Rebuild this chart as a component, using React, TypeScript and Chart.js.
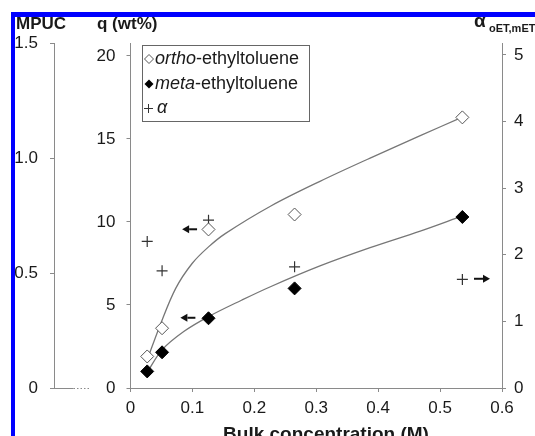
import React, { useEffect, useRef } from 'react';
import { Chart, registerables } from 'chart.js';

Chart.register(...registerables);

// ---- data ----
const concentrations = [0.027, 0.051, 0.126, 0.265, 0.536];
const orthoQ = [1.9, 3.6, 9.55, 10.45, 16.3];
const metaQ = [1.0, 2.15, 4.2, 6.0, 10.3];
const alphaValues = [2.2, 1.76, 2.52, 1.82, 1.63];

const orthoFitX = [0.027, 0.048, 0.073, 0.0995, 0.126, 0.153, 0.226, 0.306, 0.387, 0.468, 0.535];
const orthoFitQ = [1.7, 3.8, 6.0, 7.5, 8.5, 9.3, 10.95, 12.45, 13.85, 15.2, 16.3];
const metaFitX = [0.027, 0.051, 0.086, 0.126, 0.18, 0.226, 0.306, 0.387, 0.468, 0.535];
const metaFitQ = [0.95, 2.3, 3.4, 4.3, 5.3, 6.1, 7.35, 8.45, 9.45, 10.35];

const xTicks = [0, 0.1, 0.2, 0.3, 0.4, 0.5, 0.6];
const xTickLabels = ['0', '0.1', '0.2', '0.3', '0.4', '0.5', '0.6'];
const qTicks = [0, 5, 10, 15, 20];
const qTickLabels = ['0', '5', '10', '15', '20'];
const alphaTicks = [0, 1, 2, 3, 4, 5];
const alphaTickLabels = ['0', '1', '2', '3', '4', '5'];
const mpucTicks = [0, 0.5, 1.0, 1.5];
const mpucTickLabels = ['0', '0.5', '1.0', '1.5'];

const legendItalic = ['ortho', 'meta', 'α'];
const legendRest = ['-ethyltoluene', '-ethyltoluene', ''];

const arrowFromX = [0.1075, 0.1048, 0.5548];
const arrowToX = [0.0834, 0.0806, 0.5806];
const arrowY = [9.56, 4.23, 1.64];
const arrowAxis = ['yQ', 'yQ', 'yAlpha'];

const xTitle = 'Bulk concentration (M)';
const qTitle = 'q (wt%)';
const mpucTitle = 'MPUC';
const alphaTitle = 'α';
const alphaSub = 'oET,mET';

const FONT = '"Liberation Sans", Arial, Helvetica, sans-serif';
const AXIS_GRAY = '#8a8a8a';
const TEXT = '#1a1a1a';

const drawDiamond = (ctx: CanvasRenderingContext2D, cx: number, cy: number, r: number, filled: boolean) => {
  ctx.beginPath();
  ctx.moveTo(cx, cy - r);
  ctx.lineTo(cx + r, cy);
  ctx.lineTo(cx, cy + r);
  ctx.lineTo(cx - r, cy);
  ctx.closePath();
  if (filled) {
    ctx.fillStyle = '#000';
    ctx.fill();
  } else {
    ctx.fillStyle = '#fff';
    ctx.fill();
    ctx.strokeStyle = '#555';
    ctx.lineWidth = 1;
    ctx.stroke();
  }
};

const overlayPlugin = {
  id: 'overlay',
  afterDraw(chart: any) {
    const ctx: CanvasRenderingContext2D = chart.ctx;
    const sx = chart.scales.x;
    const sm = chart.scales.yMPUC;
    ctx.save();

    // MPUC zero line (solid then dotted)
    const y0 = Math.round(sm.getPixelForValue(0)) + 0.5;
    const ax = Math.round(sm.right) + 0.5;
    ctx.strokeStyle = AXIS_GRAY;
    ctx.lineWidth = 1;
    ctx.beginPath();
    ctx.moveTo(ax, y0);
    ctx.lineTo(ax + 19, y0);
    ctx.stroke();
    ctx.setLineDash([1.5, 2]);
    ctx.beginPath();
    ctx.moveTo(ax + 19, y0);
    ctx.lineTo(ax + 35, y0);
    ctx.stroke();
    ctx.setLineDash([]);

    // arrows
    for (let i = 0; i < arrowFromX.length; i++) {
      const sy = chart.scales[arrowAxis[i]];
      const x1 = sx.getPixelForValue(arrowFromX[i]);
      const x2 = sx.getPixelForValue(arrowToX[i]);
      const y = sy.getPixelForValue(arrowY[i]);
      const dir = x2 > x1 ? 1 : -1;
      const head = 7;
      ctx.strokeStyle = '#111';
      ctx.fillStyle = '#111';
      ctx.lineWidth = 2;
      ctx.beginPath();
      ctx.moveTo(x1, y);
      ctx.lineTo(x2 - dir * head, y);
      ctx.stroke();
      ctx.beginPath();
      ctx.moveTo(x2, y);
      ctx.lineTo(x2 - dir * head, y - 4);
      ctx.lineTo(x2 - dir * head, y + 4);
      ctx.closePath();
      ctx.fill();
    }

    // legend
    ctx.strokeStyle = '#666';
    ctx.lineWidth = 1;
    ctx.strokeRect(142.5, 45.5, 167, 76);
    const rowY = [59, 84, 108];
    ctx.textBaseline = 'middle';
    for (let i = 0; i < 3; i++) {
      const cy = rowY[i];
      if (i === 0) drawDiamond(ctx, 149, cy, 4.5, false);
      else if (i === 1) drawDiamond(ctx, 149, cy, 4.5, true);
      else {
        ctx.strokeStyle = '#333';
        ctx.lineWidth = 1;
        ctx.beginPath();
        ctx.moveTo(144, cy + 0.5);
        ctx.lineTo(153, cy + 0.5);
        ctx.moveTo(148.5, cy - 4);
        ctx.lineTo(148.5, cy + 5);
        ctx.stroke();
      }
      ctx.fillStyle = TEXT;
      ctx.textAlign = 'left';
      const tx = i === 2 ? 157 : 155;
      ctx.font = `italic 18px ${FONT}`;
      ctx.fillText(legendItalic[i], tx, cy);
      const w = ctx.measureText(legendItalic[i]).width;
      ctx.font = `18px ${FONT}`;
      ctx.fillText(legendRest[i], tx + w, cy);
    }

    // titles
    ctx.fillStyle = TEXT;
    ctx.textBaseline = 'alphabetic';
    ctx.textAlign = 'left';
    ctx.font = `bold 17px ${FONT}`;
    ctx.fillText(mpucTitle, 16, 29);
    ctx.fillText(qTitle, 97, 29);
    ctx.font = `bold 19px ${FONT}`;
    ctx.fillText(alphaTitle, 474, 27);
    ctx.font = `bold 11px ${FONT}`;
    ctx.fillText(alphaSub, 489, 32);
    ctx.textAlign = 'center';
    ctx.textBaseline = 'top';
    ctx.font = `bold 19px ${FONT}`;
    ctx.fillText(xTitle, 326, 425);

    // blue frame
    ctx.fillStyle = '#0000ff';
    ctx.fillRect(11, 12, 600, 5);
    ctx.fillRect(11, 12, 4, 500);
    ctx.restore();
  },
};

const axisGrid = {
  display: true,
  drawOnChartArea: false,
  drawTicks: true,
  tickLength: 4,
  color: AXIS_GRAY,
  lineWidth: 1,
};
const axisBorder = { display: true, color: AXIS_GRAY, width: 1 };
const tickFont = { family: FONT, size: 17 };

export default function App() {
  const canvasRef = useRef<HTMLCanvasElement | null>(null);

  useEffect(() => {
    if (!canvasRef.current) return;
    const chart = new Chart(canvasRef.current, {
      type: 'scatter',
      data: {
        datasets: [
          {
            label: 'ortho-ethyltoluene',
            data: concentrations.map((x, i) => ({ x, y: orthoQ[i] })),
            yAxisID: 'yQ',
            pointStyle: 'rectRot',
            pointRadius: 6.5,
            backgroundColor: '#fff',
            borderColor: '#555',
            borderWidth: 1,
            showLine: false,
          },
          {
            label: 'meta-ethyltoluene',
            data: concentrations.map((x, i) => ({ x, y: metaQ[i] })),
            yAxisID: 'yQ',
            pointStyle: 'rectRot',
            pointRadius: 6.5,
            backgroundColor: '#000',
            borderColor: '#000',
            borderWidth: 1,
            showLine: false,
          },
          {
            label: 'α',
            data: concentrations.map((x, i) => ({ x, y: alphaValues[i] })),
            yAxisID: 'yAlpha',
            pointStyle: 'cross',
            pointRadius: 5.5,
            backgroundColor: '#333',
            borderColor: '#333',
            borderWidth: 1.2,
            showLine: false,
          },
          {
            label: 'ortho fit',
            data: orthoFitX.map((x, i) => ({ x, y: orthoFitQ[i] })),
            yAxisID: 'yQ',
            showLine: true,
            pointRadius: 0,
            borderColor: '#777',
            borderWidth: 1.3,
            tension: 0.35,
          },
          {
            label: 'meta fit',
            data: metaFitX.map((x, i) => ({ x, y: metaFitQ[i] })),
            yAxisID: 'yQ',
            showLine: true,
            pointRadius: 0,
            borderColor: '#777',
            borderWidth: 1.3,
            tension: 0.35,
          },
        ],
      },
      options: {
        animation: false,
        responsive: false,
        maintainAspectRatio: false,
        layout: { padding: { top: 43, left: 0, right: 0, bottom: 0 } },
        plugins: { legend: { display: false }, tooltip: { enabled: false } },
        scales: {
          x: {
            type: 'linear',
            position: 'bottom',
            min: 0,
            max: 0.6,
            grid: axisGrid,
            border: axisBorder,
            afterBuildTicks: (s: any) => {
              s.ticks = xTicks.map((v) => ({ value: v }));
            },
            afterFit: (s: any) => {
              s.height = 48;
            },
            ticks: {
              font: tickFont,
              color: TEXT,
              padding: 6,
              maxRotation: 0,
              autoSkip: false,
              callback: (_v: any, i: number) => xTickLabels[i],
            },
          },
          yMPUC: {
            type: 'linear',
            position: 'left',
            weight: 10,
            min: 0,
            max: 1.5,
            grid: axisGrid,
            border: axisBorder,
            afterBuildTicks: (s: any) => {
              s.ticks = mpucTicks.map((v) => ({ value: v }));
            },
            afterFit: (s: any) => {
              s.width = 54;
            },
            ticks: {
              font: tickFont,
              color: TEXT,
              padding: 12,
              autoSkip: false,
              callback: (_v: any, i: number) => mpucTickLabels[i],
            },
          },
          yQ: {
            type: 'linear',
            position: 'left',
            weight: 0,
            min: 0,
            max: 20.78,
            grid: axisGrid,
            border: axisBorder,
            afterBuildTicks: (s: any) => {
              s.ticks = qTicks.map((v) => ({ value: v }));
            },
            afterFit: (s: any) => {
              s.width = 76.5;
            },
            ticks: {
              font: tickFont,
              color: TEXT,
              padding: 11,
              autoSkip: false,
              callback: (_v: any, i: number) => qTickLabels[i],
            },
          },
          yAlpha: {
            type: 'linear',
            position: 'right',
            min: 0,
            max: 5.18,
            grid: axisGrid,
            border: axisBorder,
            afterBuildTicks: (s: any) => {
              s.ticks = alphaTicks.map((v) => ({ value: v }));
            },
            afterFit: (s: any) => {
              s.width = 33;
            },
            ticks: {
              font: tickFont,
              color: TEXT,
              padding: 8,
              autoSkip: false,
              callback: (_v: any, i: number) => alphaTickLabels[i],
            },
          },
        },
      },
      plugins: [overlayPlugin],
    } as any);
    return () => chart.destroy();
  }, []);

  return (
    <div style={{ position: 'absolute', left: 0, top: 0, width: 535, height: 436, background: '#fff' }}>
      <canvas ref={canvasRef} width={535} height={436} style={{ display: 'block' }} />
    </div>
  );
}
